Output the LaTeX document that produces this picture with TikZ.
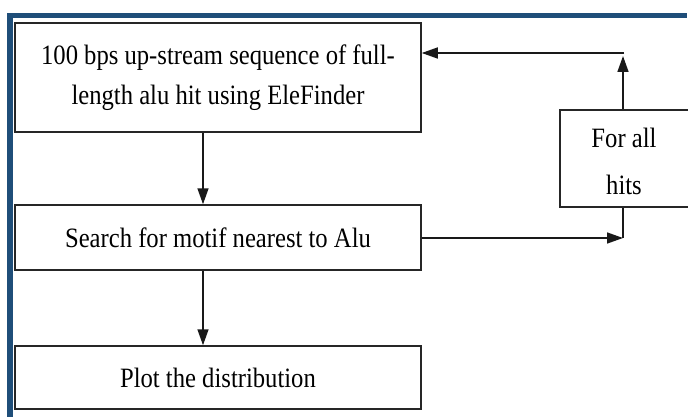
\documentclass[tikz,border=0pt]{standalone}
\usepackage{fontspec}
\setmainfont[FakeStretch=0.88]{Liberation Serif}
\usetikzlibrary{arrows.meta}
\definecolor{frameblue}{RGB}{31,78,121}
\begin{document}
\begin{tikzpicture}[x=1pt,y=-1pt,
  box/.style={draw=black!85,line width=1.5pt,rectangle,inner sep=0pt,font=\fontsize{28}{40}\selectfont,align=center},
  lbl/.style={inner sep=0pt,font=\fontsize{28}{47}\selectfont,align=center},
  arr/.style={line width=1.5pt,draw=black!90,-{Triangle[length=16pt,width=11pt]}},
  ln/.style={line width=1.5pt,draw=black!90}]
\useasboundingbox (0,0) rectangle (688,417);
\clip (0,0) rectangle (688,417);
\fill[frameblue] (7,13) rectangle (687,18);
\fill[frameblue] (7,13) rectangle (13,417);
\node[box,minimum width=406pt,minimum height=109pt] (b1) at (218,77.5) {100 bps up-stream sequence of full-\\length alu hit using EleFinder};
\node[box,minimum width=406pt,minimum height=65pt] (b2) at (218,237.5) {Search for motif nearest to Alu};
\node[box,minimum width=406pt,minimum height=63pt] (b3) at (218,377.5) {Plot the distribution};
\node[box,minimum width=140pt,minimum height=97pt] (b4) at (630,158.5) {};
\node[lbl] (t4) at (624,161) {For all\\hits};
\draw[arr] ([xshift=-15pt]b1.south) -- ([xshift=-15pt]b2.north);
\draw[arr] ([xshift=-15pt]b2.south) -- ([xshift=-15pt]b3.north);
\coordinate (c1) at (623,238);
\coordinate (c2) at (623,56);
\coordinate (c3) at (624,53);
\draw[arr] (b2.east |- c1) -- (c1);
\draw[ln] (c1) -- (c1 |- b4.south);
\draw[arr] (c1 |- b4.north) -- (c2);
\draw[arr] (c3) -- (b1.east |- c3);
\end{tikzpicture}
\end{document}
